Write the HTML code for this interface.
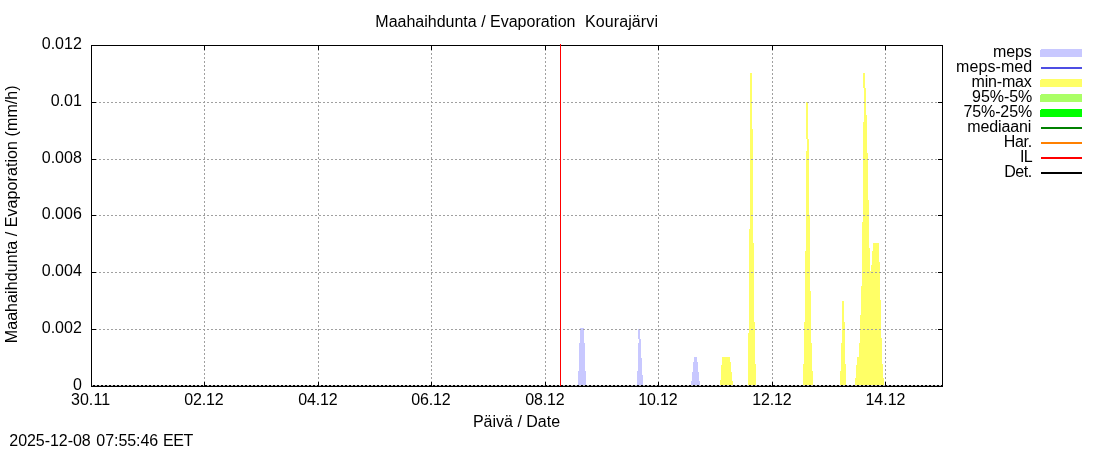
<!DOCTYPE html>
<html><head><meta charset="utf-8"><title>Maahaihdunta / Evaporation Kourajärvi</title>
<style>
html,body{margin:0;padding:0;background:#fff;}
svg{display:block;}
text{font-family:"Liberation Sans",sans-serif;font-size:16px;fill:#000;white-space:pre;}
.g line{stroke:#a0a0a0;stroke-width:1;stroke-dasharray:2 2;}
.t line,.b{stroke:#000;stroke-width:1;fill:none;}
.f{shape-rendering:crispEdges;}
.k line{stroke-width:2;}
</style></head><body>
<svg width="1100" height="450" viewBox="0 0 1100 450">
<rect width="1100" height="450" fill="#fff"/>
<text y="27" xml:space="preserve"><tspan x="375.3">Maahaihdunta / Evaporation</tspan>  <tspan x="584.95" textLength="73.0">Kourajärvi</tspan></text>
<text transform="translate(16.6,214.3) rotate(-90)" text-anchor="middle" textLength="257.9">Maahaihdunta / Evaporation (mm/h)</text>
<text x="516.5" y="427" text-anchor="middle">Päivä / Date</text>
<text y="446"><tspan x="9.3" textLength="81.4">2025-12-08</tspan> <tspan x="96.3" textLength="61.9">07:55:46</tspan> <tspan x="163.1" textLength="30.3">EET</tspan></text>

<g class="f">
<path fill="#c8c8ff" d="M580,328 H584 V343 H585 V371 H586 V385 H578 V371 H579 V343 H580 Z"/>
<path fill="#c8c8ff" d="M638,329 H640 V339 H641 V358 H642 V375 H643 V385 H637 V371 H638 V343 H639 V339 H638 Z"/>
<path fill="#c8c8ff" d="M694,357 H697 V362 H698 V372 H699 V381 H700 V385 H691 V381 H692 V372 H693 V362 H694 Z"/>
<path fill="#ffff66" d="M722,357 H730 V362 H731 V372 H732 V381 H733 V385 H720 V380 H721 V365 H722 Z"/>
<path fill="#ffff66" d="M750,73 H752 V129 H753 V243 H754 V322 H755 V364 H756 V385 H748 V333 H749 V229 H750 Z"/>
<path fill="#ffff66" d="M806,102 H808 V139 H809 V215 H810 V291 H811 V343 H812 V371 H813 V385 H803 V364 H804 V322 H805 V251 H806 V151 H807 V139 H806 Z"/>
<path fill="#ffff66" d="M842,301 H844 V322 H845 V364 H846 V385 H840 V371 H841 V343 H842 Z"/>
<path fill="#ffff66" d="M863,73 H865 V88 H866 V115 H867 V153 H868 V200 H869 V248 H870 V271 H871 V265 H872 V251 H873 V243 H879 V262 H880 V300 H881 V338 H882 V364 H883 V378 H884 V385 H855 V378 H856 V365 H857 V357 H859 V343 H860 V315 H861 V286 H862 V222 H863 V122 H864 V88 H863 Z"/>
</g>
<g class="g">
<line x1="204.5" y1="387" x2="204.5" y2="46"/>
<line x1="318.5" y1="387" x2="318.5" y2="46"/>
<line x1="431.5" y1="387" x2="431.5" y2="46"/>
<line x1="545.5" y1="387" x2="545.5" y2="46"/>
<line x1="658.5" y1="387" x2="658.5" y2="46"/>
<line x1="772.5" y1="387" x2="772.5" y2="46"/>
<line x1="885.5" y1="387" x2="885.5" y2="46"/>
<line x1="91" y1="329.5" x2="942" y2="329.5"/>
<line x1="91" y1="272.5" x2="942" y2="272.5"/>
<line x1="91" y1="215.5" x2="942" y2="215.5"/>
<line x1="91" y1="159.5" x2="942" y2="159.5"/>
<line x1="91" y1="102.5" x2="942" y2="102.5"/>
</g>
<line x1="92.75" y1="385.5" x2="942" y2="385.5" stroke="#000" stroke-width="1" stroke-dasharray="2.5 1.5"/>
<g class="t">
<line x1="204.5" y1="386" x2="204.5" y2="382"/>
<line x1="204.5" y1="46" x2="204.5" y2="50"/>
<line x1="318.5" y1="386" x2="318.5" y2="382"/>
<line x1="318.5" y1="46" x2="318.5" y2="50"/>
<line x1="431.5" y1="386" x2="431.5" y2="382"/>
<line x1="431.5" y1="46" x2="431.5" y2="50"/>
<line x1="545.5" y1="386" x2="545.5" y2="382"/>
<line x1="545.5" y1="46" x2="545.5" y2="50"/>
<line x1="658.5" y1="386" x2="658.5" y2="382"/>
<line x1="658.5" y1="46" x2="658.5" y2="50"/>
<line x1="772.5" y1="386" x2="772.5" y2="382"/>
<line x1="772.5" y1="46" x2="772.5" y2="50"/>
<line x1="885.5" y1="386" x2="885.5" y2="382"/>
<line x1="885.5" y1="46" x2="885.5" y2="50"/>
<line x1="92" y1="329.5" x2="96" y2="329.5"/>
<line x1="942" y1="329.5" x2="938" y2="329.5"/>
<line x1="92" y1="272.5" x2="96" y2="272.5"/>
<line x1="942" y1="272.5" x2="938" y2="272.5"/>
<line x1="92" y1="215.5" x2="96" y2="215.5"/>
<line x1="942" y1="215.5" x2="938" y2="215.5"/>
<line x1="92" y1="159.5" x2="96" y2="159.5"/>
<line x1="942" y1="159.5" x2="938" y2="159.5"/>
<line x1="92" y1="102.5" x2="96" y2="102.5"/>
<line x1="942" y1="102.5" x2="938" y2="102.5"/>
</g>
<rect class="b" x="91.5" y="45.5" width="851" height="341"/>
<line x1="560.5" y1="44" x2="560.5" y2="386" stroke="#ff0000" stroke-width="1"/>
<text x="70.9" y="405" textLength="39.2">30.11</text>
<text x="184.15" y="405" textLength="39.5">02.12</text>
<text x="298.15" y="405" textLength="39.5">04.12</text>
<text x="411.15" y="405" textLength="39.5">06.12</text>
<text x="525.15" y="405" textLength="39.5">08.12</text>
<text x="638.15" y="405" textLength="39.5">10.12</text>
<text x="752.15" y="405" textLength="39.5">12.12</text>
<text x="885.5" y="405" text-anchor="middle">14.12</text>
<text x="81.8" y="389.6" text-anchor="end">0</text>
<text x="81.8" y="332.6" text-anchor="end">0.002</text>
<text x="81.8" y="275.6" text-anchor="end">0.004</text>
<text x="81.8" y="218.6" text-anchor="end">0.006</text>
<text x="81.8" y="162.6" text-anchor="end">0.008</text>
<text x="81.8" y="105.6" text-anchor="end">0.01</text>
<text x="81.8" y="48.6" text-anchor="end">0.012</text>
<g class="k">
<text x="993.1" y="56.8" textLength="38.7">meps</text>
<path class="f" fill="#c8c8ff" d="M1041,49 H1082 V57 H1040 V50 H1041 Z"/>
<text x="956.0" y="71.8" textLength="76.2">meps-med</text>
<line x1="1041" y1="68" x2="1082" y2="68" stroke="#4e4ee3"/>
<text x="971.5" y="86.8" textLength="60.3">min-max</text>
<path class="f" fill="#ffff66" d="M1041,79 H1082 V87 H1040 V80 H1041 Z"/>
<text x="972.1" y="101.8" textLength="60.1">95%-5%</text>
<path class="f" fill="#aaff66" d="M1041,94 H1082 V102 H1040 V95 H1041 Z"/>
<text x="963.4" y="116.8" textLength="68.8">75%-25%</text>
<path class="f" fill="#00ff00" d="M1041,109 H1082 V117 H1040 V110 H1041 Z"/>
<text x="967.3" y="131.8" textLength="63.9">mediaani</text>
<line x1="1041" y1="128" x2="1082" y2="128" stroke="#008000"/>
<text x="1003.8" y="146.8" textLength="28.4">Har.</text>
<line x1="1041" y1="143" x2="1082" y2="143" stroke="#ff8000"/>
<text x="1020.0" y="161.8" textLength="12.7">IL</text>
<line x1="1041" y1="158" x2="1082" y2="158" stroke="#ff0000"/>
<text x="1004.2" y="176.8" textLength="28.0">Det.</text>
<line x1="1041" y1="173" x2="1082" y2="173" stroke="#000000"/>
</g>
</svg>
</body></html>
